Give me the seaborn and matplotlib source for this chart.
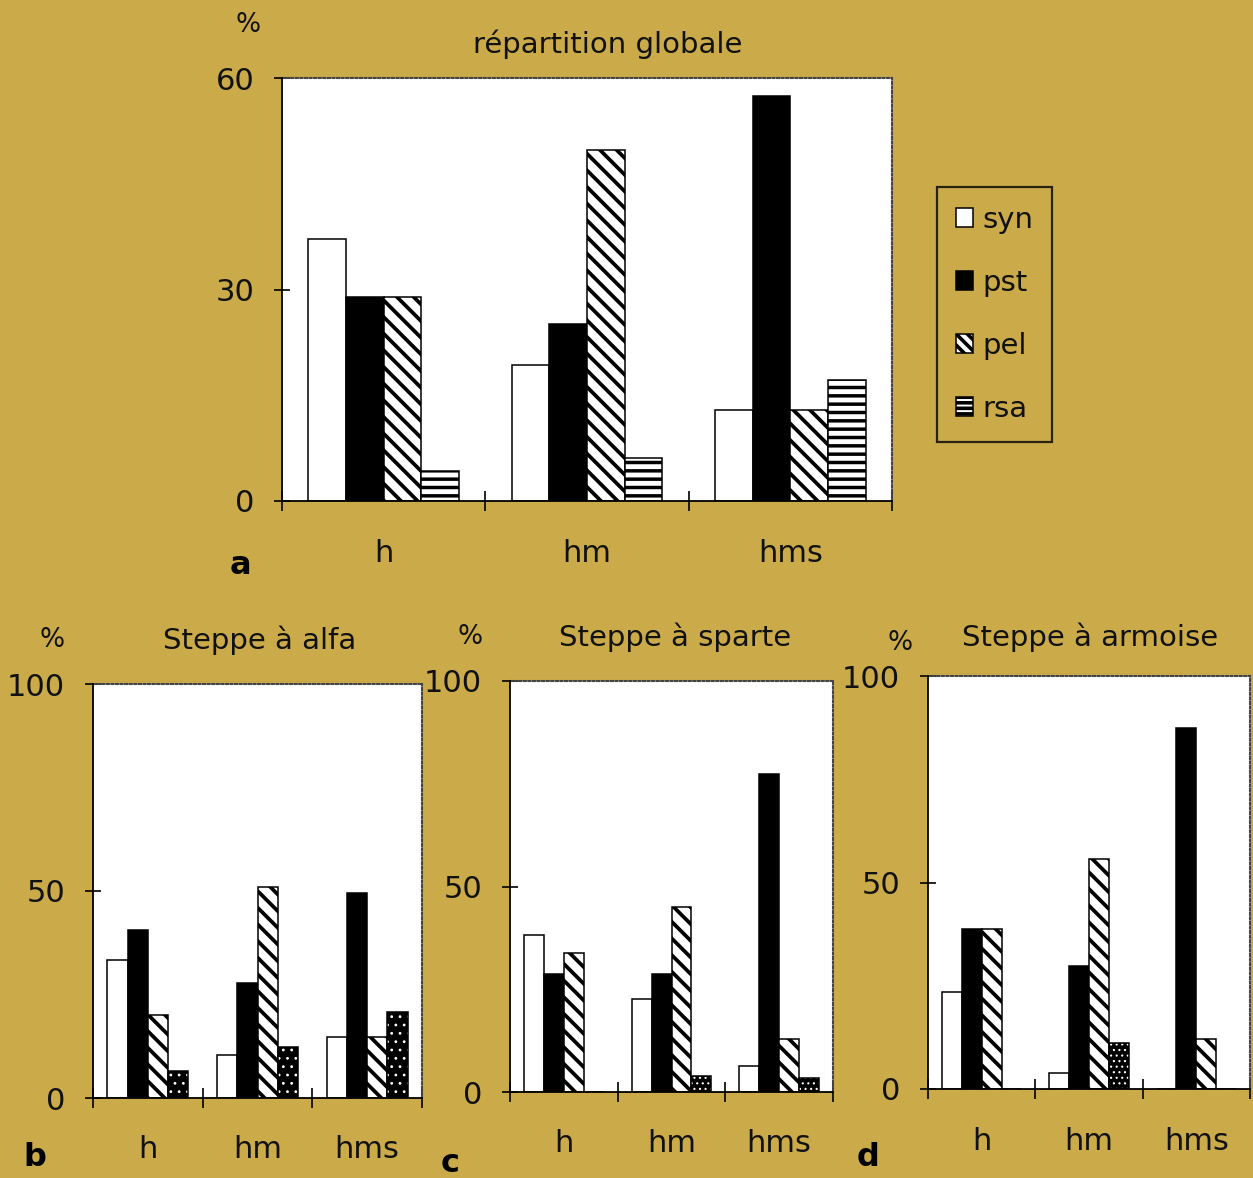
import numpy as np
import pandas as pd
import matplotlib
matplotlib.use("Agg")
import matplotlib.pyplot as plt
from matplotlib.patches import Patch, Rectangle
import seaborn as sns

# ---- data (percentages) ----
categories = ["h", "hm", "hms"]
series = ["syn", "pst", "pel", "rsa"]

global_syn = [37.2, 19.3, 12.9]
global_pst = [29.0, 25.1, 57.4]
global_pel = [29.0, 49.8, 12.9]
global_rsa = [4.2, 6.1, 17.1]

alfa_syn = [33.4, 10.4, 14.7]
alfa_pst = [40.6, 27.8, 49.6]
alfa_pel = [20.1, 51.0, 14.7]
alfa_rsa = [6.5, 12.3, 20.7]

sparte_syn = [38.3, 22.6, 6.3]
sparte_pst = [28.8, 28.8, 77.4]
sparte_pel = [33.9, 44.9, 13.0]
sparte_rsa = [0.0, 4.0, 3.3]

armoise_syn = [23.4, 3.9, 0.0]
armoise_pst = [38.8, 29.7, 87.4]
armoise_pel = [38.8, 55.6, 12.2]
armoise_rsa = [0.0, 11.2, 0.0]

titles = ["répartition globale", "Steppe à alfa", "Steppe à sparte", "Steppe à armoise"]
letters = ["a", "b", "c", "d"]

BG = "#CBAA4A"
W, H = 1253, 1178

sns.set_theme(style="white")
plt.rcParams["font.family"] = ["DejaVu Sans"]
plt.rcParams["hatch.linewidth"] = 2.6


def frame(df_vals):
    rows = []
    for s, vals in zip(series, df_vals):
        for c, v in zip(categories, vals):
            rows.append({"cat": c, "series": s, "val": v})
    return pd.DataFrame(rows)


def rect(left, right, top, bottom):
    return [left / W, 1 - bottom / H, (right - left) / W, (bottom - top) / H]


fig = plt.figure(figsize=(W / 100, H / 100), dpi=100)
fig.patch.set_facecolor(BG)

panels = [
    dict(data=[global_syn, global_pst, global_pel, global_rsa],
         box=(282, 892, 78, 501), ymax=60, yticks=[0, 30, 60], rsa="stripes",
         title_xy=(608, 44), pct_xy=(248, 25), letter_xy=(240, 565)),
    dict(data=[alfa_syn, alfa_pst, alfa_pel, alfa_rsa],
         box=(93, 422, 684, 1098), ymax=100, yticks=[0, 50, 100], rsa="dots",
         title_xy=(260, 640), pct_xy=(52, 640), letter_xy=(35, 1158)),
    dict(data=[sparte_syn, sparte_pst, sparte_pel, sparte_rsa],
         box=(510, 833, 681, 1092), ymax=100, yticks=[0, 50, 100], rsa="fine",
         title_xy=(675, 637), pct_xy=(470, 637), letter_xy=(450, 1163)),
    dict(data=[armoise_syn, armoise_pst, armoise_pel, armoise_rsa],
         box=(928, 1250, 676, 1089), ymax=100, yticks=[0, 50, 100], rsa="fine",
         title_xy=(1090, 637), pct_xy=(900, 643), letter_xy=(868, 1157)),
]

# matplotlib hatch density: each character adds 6 lines per inch
HATCH_PEL = "\\\\"
HATCH_RSA = "--"


def set_hlw(p, lw):
    if hasattr(p, "set_hatch_linewidth"):
        p.set_hatch_linewidth(lw)


def style_bar(ax, p, kind):
    p.set_linewidth(1.1)
    if kind == "syn":
        p.set_facecolor("white")
        p.set_edgecolor("black")
    elif kind == "pst":
        p.set_facecolor("black")
        p.set_edgecolor("black")
    elif kind == "pel":
        p.set_facecolor("white")
        p.set_edgecolor("black")
        p.set_hatch(HATCH_PEL)
        set_hlw(p, 2.7)
    elif kind == "stripes":
        p.set_facecolor("white")
        p.set_edgecolor("black")
        p.set_hatch(HATCH_RSA)
        set_hlw(p, 2.5)
    else:
        # black bar with white dot pattern, outlined separately
        p.set_facecolor("black")
        p.set_edgecolor("white")
        p.set_linewidth(0)
        p.set_hatch(".." if kind == "dots" else "...")
        set_hlw(p, 0.8)
        ax.add_patch(Rectangle(p.get_xy(), p.get_width(), p.get_height(),
                               fill=False, edgecolor="black", linewidth=1.1,
                               zorder=p.get_zorder() + 0.1))


for i, pn in enumerate(panels):
    ax = fig.add_axes(rect(*pn["box"]))
    df = frame(pn["data"])
    sns.barplot(data=df, x="cat", y="val", hue="series", order=categories,
                hue_order=series, width=0.74, saturation=1, legend=False,
                palette=["white", "black", "white", "white"], ax=ax,
                errorbar=None)
    for s, cont in zip(series, ax.containers):
        kind = s if s != "rsa" else pn["rsa"]
        for p in cont.patches:
            style_bar(ax, p, kind)

    ax.set_facecolor("white")
    ax.set_xlim(-0.5, 2.5)
    ax.set_ylim(0, pn["ymax"])
    ax.set_yticks(pn["yticks"])
    ax.set_xlabel("")
    ax.set_ylabel("")
    ax.set_xticks([0, 1, 2])
    ax.set_xticklabels(categories)
    ax.set_xticks([-0.5, 0.5, 1.5, 2.5], minor=True)
    ax.tick_params(axis="x", which="major", length=0, pad=27, labelsize=22,
                   labelcolor="#111111")
    ax.tick_params(axis="x", which="minor", length=14, width=1.2,
                   direction="inout", color="black", bottom=True)
    ax.tick_params(axis="y", which="major", length=12, width=1.2,
                   direction="inout", color="black", pad=14, labelsize=22,
                   labelcolor="#111111", left=True)

    for side in ("left", "bottom"):
        ax.spines[side].set_visible(True)
        ax.spines[side].set_color("black")
        ax.spines[side].set_linewidth(1.3)
        ax.spines[side].set_zorder(5)
    for side in ("top", "right"):
        ax.spines[side].set_visible(True)
        ax.spines[side].set_color("#444444")
        ax.spines[side].set_linewidth(1.5)
        ax.spines[side].set_linestyle((0, (1, 1.2)))

    tx, ty = pn["title_xy"]
    fig.text(tx / W, 1 - ty / H, titles[i], ha="center", va="center",
             fontsize=21, color="#111111")
    px, py = pn["pct_xy"]
    fig.text(px / W, 1 - py / H, "%", ha="center", va="center",
             fontsize=19, color="#111111")
    lx, ly = pn["letter_xy"]
    fig.text(lx / W, 1 - ly / H, letters[i], ha="center", va="center",
             fontsize=23, fontweight="bold", color="black")

# legend for the global panel
handles = [
    Patch(facecolor="white", edgecolor="black", linewidth=1.1),
    Patch(facecolor="black", edgecolor="black", linewidth=1.1),
    Patch(facecolor="white", edgecolor="black", linewidth=1.1, hatch="\\\\\\"),
    Patch(facecolor="white", edgecolor="black", linewidth=1.1, hatch="---"),
]
leg = fig.legend(handles, series, loc="upper left",
                 bbox_to_anchor=(937 / W, 1 - 187 / H), fontsize=21,
                 frameon=True, fancybox=False, edgecolor="black",
                 facecolor="none", framealpha=None, borderpad=0.65,
                 labelspacing=1.2, handlelength=0.6, handleheight=0.6,
                 handletextpad=0.3, borderaxespad=0)
leg.get_frame().set_linewidth(1.6)
for t in leg.get_texts():
    t.set_color("#111111")

fig.savefig("out.png", dpi=100, facecolor=BG)
